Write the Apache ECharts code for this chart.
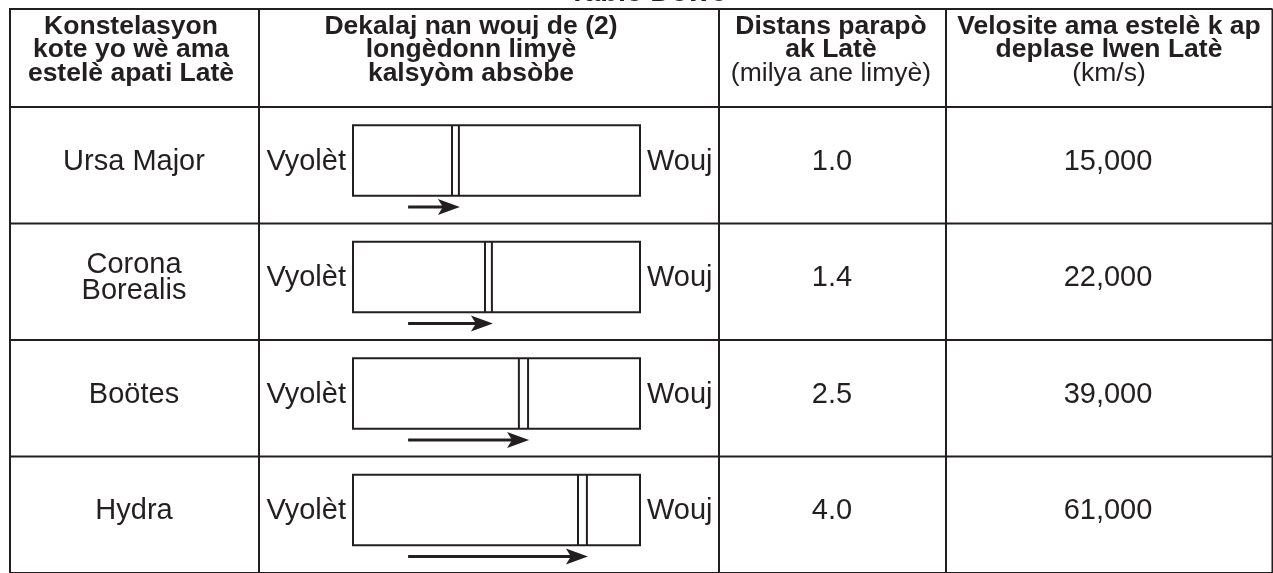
<!DOCTYPE html>
<html>
<head>
<meta charset="utf-8">
<script src="https://cdn.jsdelivr.net/npm/echarts@6/dist/echarts.min.js"></script>
<style>
html,body{margin:0;padding:0;background:#ffffff;}
#c{width:1273px;height:573px;}
</style>
</head>
<body>
<div id="c"></div>
<script>
// ---------- data ----------
const titleText = 'Table Dewo';
const headConstellation = ['Konstelasyon', 'kote yo wè ama', 'estelè apati Latè'];
const headShift = ['Dekalaj nan wouj de (2)', 'longèdonn limyè', 'kalsyòm absòbe'];
const headDistance = ['Distans parapò', 'ak Latè', '(milya ane limyè)'];
const headVelocity = ['Velosite ama estelè k ap', 'deplase lwen Latè', '(km/s)'];
const constellations = ['Ursa Major', 'Corona\nBorealis', 'Boötes', 'Hydra'];
const distances = ['1.0', '1.4', '2.5', '4.0'];
const velocities = ['15,000', '22,000', '39,000', '61,000'];
const violetLabel = 'Vyolèt';
const redLabel = 'Wouj';
// spectrum positions (0 = violet end, 100 = red end of the spectrum box)
const lineLeft = [34.5, 46.0, 57.8, 78.4];
const lineRight = [36.9, 48.4, 61.0, 81.5];
const arrowStart = [19.2, 19.2, 19.2, 19.2];

// ---------- layout / style ----------
const INK = '#231f20';
const FF = "'Liberation Sans', Arial, Helvetica, sans-serif";
const COLS = [10, 259, 719, 946, 1272.5];
const HEAD_H = 98;
const headCenters = [131, 471, 831, 1109];
const headBoldLast = [true, true, false, false];

function txt(s, x, y, font, align) {
  return {
    type: 'text', x: x, y: y,
    style: { text: s, fill: INK, font: font, textAlign: align || 'center', textVerticalAlign: 'middle' }
  };
}
function seg(x1, y1, x2, y2, w) {
  return {
    type: 'line',
    shape: { x1: x1, y1: y1, x2: x2, y2: y2 },
    style: { stroke: INK, lineWidth: w || 2 }
  };
}

function renderHeader(params, api) {
  const cs = params.coordSys;
  const hb = cs.y, ht = hb - HEAD_H;
  const ch = [];
  ch.push({
    type: 'text', x: 648, y: 7,
    style: { text: titleText, fill: INK, font: 'bold 29px ' + FF, textAlign: 'center', textVerticalAlign: 'bottom' }
  });
  ch.push(seg(COLS[0] - 1, ht, COLS[4], ht));
  ch.push(seg(COLS[0] - 1, hb, COLS[4], hb));
  COLS.forEach(c => ch.push(seg(c, ht, c, hb)));
  const heads = [headConstellation, headShift, headDistance, headVelocity];
  heads.forEach((lines, ci) => {
    lines.forEach((s, li) => {
      const bold = li < 2 || headBoldLast[ci];
      ch.push(txt(s, headCenters[ci], ht + 17.5 + li * 23.5, (bold ? 'bold ' : '') + '26.5px ' + FF));
    });
  });
  return { type: 'group', children: ch };
}

function renderRow(params, api) {
  const i = params.dataIndex;
  const p = api.coord([0, api.value(1)]);
  const band = api.size([0, 1])[1];
  const top = p[1] - band / 2, bot = p[1] + band / 2;
  const ty = top + 54.5;
  const f = '29px ' + FF;
  const ch = [];
  COLS.forEach(c => ch.push(seg(c, top, c, bot)));
  ch.push(seg(COLS[0] - 1, bot, COLS[4], bot));
  const names = constellations[i].split('\n');
  names.forEach((s, k) => {
    ch.push(txt(s, 134, ty + (k - (names.length - 1) / 2) * 25.5, f));
  });
  ch.push(txt(violetLabel, 346, ty, f, 'right'));
  ch.push(txt(redLabel, 647, ty, f, 'left'));
  ch.push(txt(distances[i], 832, ty, f));
  ch.push(txt(velocities[i], 1108, ty, f));
  return { type: 'group', children: ch };
}

function renderSpectrum(params, api) {
  const cs = params.coordSys;
  const row = api.value(3);
  const pA = api.coord([api.value(0), row]);
  const pB = api.coord([api.value(1), row]);
  const pS = api.coord([api.value(2), row]);
  const band = api.size([0, 1])[1];
  const top = pA[1] - band / 2;
  const boxTop = top + 18.3, boxH = 70.5;
  const ay = top + 100;
  const ch = [];
  ch.push({
    type: 'rect',
    shape: { x: cs.x, y: boxTop, width: cs.width, height: boxH },
    style: { fill: '#ffffff', stroke: INK, lineWidth: 2 }
  });
  ch.push(seg(pA[0], boxTop, pA[0], boxTop + boxH, 2));
  ch.push(seg(pB[0], boxTop, pB[0], boxTop + boxH, 2));
  const tip = pB[0] + 1;
  ch.push(seg(pS[0], ay, tip - 14, ay, 3));
  ch.push({
    type: 'polygon',
    shape: { points: [[tip, ay], [tip - 22, ay - 8], [tip - 17, ay], [tip - 22, ay + 8]] },
    style: { fill: INK }
  });
  return { type: 'group', children: ch };
}

const chart = echarts.init(document.getElementById('c'), null, { renderer: 'canvas' });
const rowData = constellations.map((c, i) => [0, c]);
const specData = constellations.map((c, i) => [lineLeft[i], lineRight[i], arrowStart[i], c]);

chart.setOption({
  backgroundColor: '#ffffff',
  animation: false,
  grid: [
    { left: 0, top: 107, width: 1273, height: 467.2, show: false },
    { left: 353, top: 107, width: 287, height: 467.2, show: false }
  ],
  xAxis: [
    { type: 'value', gridIndex: 0, min: 0, max: 1273, show: false },
    { type: 'value', gridIndex: 1, min: 0, max: 100, show: false }
  ],
  yAxis: [
    { type: 'category', gridIndex: 0, data: constellations, inverse: true, show: false },
    { type: 'category', gridIndex: 1, data: constellations, inverse: true, show: false }
  ],
  series: [
    {
      type: 'custom', name: 'header', xAxisIndex: 0, yAxisIndex: 0,
      data: [[0, constellations[0]]], encode: { x: 0, y: 1 },
      renderItem: renderHeader, silent: true
    },
    {
      type: 'custom', name: 'rows', xAxisIndex: 0, yAxisIndex: 0,
      data: rowData, encode: { x: 0, y: 1 },
      renderItem: renderRow, silent: true
    },
    {
      type: 'custom', name: 'spectrum', xAxisIndex: 1, yAxisIndex: 1,
      data: specData, encode: { x: [0, 1, 2], y: 3 },
      renderItem: renderSpectrum, silent: true
    }
  ]
});
</script>
</body>
</html>
